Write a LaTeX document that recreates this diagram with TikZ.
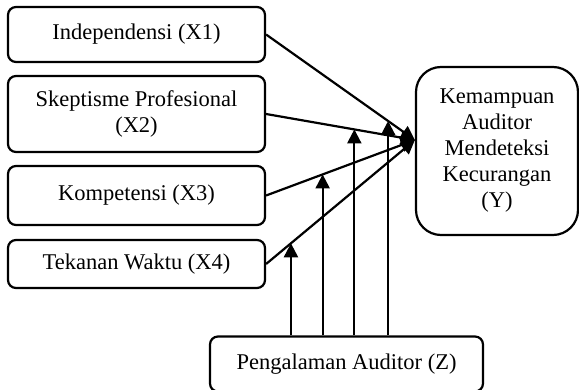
\documentclass[tikz,border=0pt]{standalone}
\usepackage{fontspec}
\setmainfont{Liberation Serif}
\usetikzlibrary{arrows.meta,calc}
\begin{document}
\begin{tikzpicture}[x=1pt, y=-1pt, every node/.style = {shape=rectangle, rounded corners=8pt, draw, line width=2.2pt, align=center, inner sep=0pt, font=\fontsize{22.5}{26}\selectfont}]
			\tikzset{ link/.style = {line width=2.2pt, -{Triangle[length=14pt, width=14pt]}} }
			\useasboundingbox (0,0) rectangle (579,390);
			\node [minimum width=257pt, minimum height=55pt] (indep) at (136.5,34.5) {Independensi (X1)};
			\node [minimum width=257pt, minimum height=76pt] (skept) at (136.5,114) {Skeptisme Profesional\\(X2)};
			\node [minimum width=257pt, minimum height=59pt] (kompet) at (136.5,195.5) {Kompetensi (X3)};
			\node [minimum width=257pt, minimum height=48pt] (tekanan) at (136.5,264) {Tekanan Waktu (X4)};
			\node [rounded corners=25pt, minimum width=162pt, minimum height=168pt] (kemampuan) at (497,151) {Kemampuan\\Auditor\\Mendeteksi\\Kecurangan\\(Y)};
			\node [minimum width=273pt, minimum height=55pt] (pengalaman) at (346.5,364) {Pengalaman Auditor (Z)};
			\coordinate (tip) at ($(kemampuan.west)+(0,-11)$);
			% X -> Y
			\foreach \x in {indep, skept, kompet, tekanan}
				\draw [link] (\x.east) -- (tip);
			% moderasi Z
			\coordinate (m1) at ($(indep.east)!0.82!(tip)$);
			\coordinate (m2) at ($(skept.east)!0.593!(tip)$);
			\coordinate (m3) at ($(kompet.east)!0.38!(tip)$);
			\coordinate (m4) at ($(tekanan.east)!0.167!(tip)$);
			\foreach \m in {m1, m2, m3, m4}
				\draw [link] (pengalaman.north -| \m) -- (\m);
		\end{tikzpicture}
\end{document}
